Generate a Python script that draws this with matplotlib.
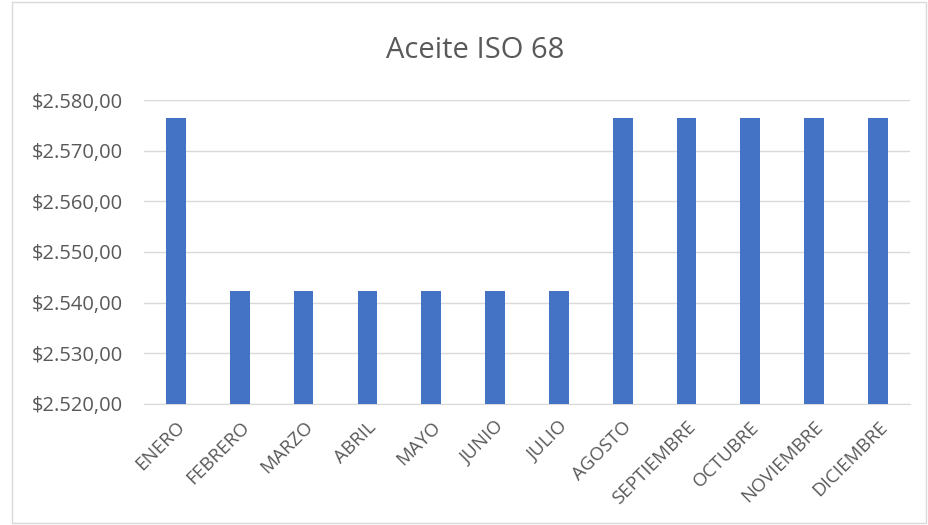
import matplotlib.pyplot as plt
from matplotlib.ticker import FuncFormatter, MultipleLocator
from matplotlib.patches import Rectangle

# datos
meses = ['ENERO', 'FEBRERO', 'MARZO', 'ABRIL', 'MAYO', 'JUNIO', 'JULIO',
         'AGOSTO', 'SEPTIEMBRE', 'OCTUBRE', 'NOVIEMBRE', 'DICIEMBRE']
precios = [2576.5, 2542.4, 2542.4, 2542.4, 2542.4, 2542.4, 2542.4,
           2576.5, 2576.5, 2576.5, 2576.5, 2576.5]

gris = '#595959'
plt.rcParams['font.family'] = ['Open Sans', 'DejaVu Sans']

fig = plt.figure(figsize=(9.29, 5.25), dpi=100)
ax = fig.add_axes([0.155, 0.2305, 0.8245, 0.579])

# borde del grafico
fig.patches.append(Rectangle((12 / 929, 2 / 525), 914 / 929, 521 / 525,
                             transform=fig.transFigure, fill=False,
                             edgecolor='#d9d9d9', linewidth=1))

x = range(len(meses))
ax.bar(x, precios, width=0.31, color='#4472C4', zorder=3)

ax.set_ylim(2520, 2580)
ax.set_xlim(-0.5, len(meses) - 0.5)
ax.yaxis.set_major_locator(MultipleLocator(10))

def fmt(v, pos):
    s = f'{v:,.2f}'.replace(',', 'X').replace('.', ',').replace('X', '.')
    return '$' + s

ax.yaxis.set_major_formatter(FuncFormatter(fmt))
ax.set_xticks(list(x))
ax.set_xticklabels(meses, rotation=45, ha='right', rotation_mode='anchor')

ax.grid(axis='y', color='#d9d9d9', linewidth=1, zorder=0)
for s in ['top', 'right', 'left']:
    ax.spines[s].set_visible(False)
ax.spines['bottom'].set_color('#d9d9d9')
ax.tick_params(axis='both', length=0, colors=gris)
ax.tick_params(axis='y', pad=15, labelsize=14.5)
ax.tick_params(axis='x', pad=10, labelsize=13.5)

fig.text(0.511, 0.903, 'Aceite ISO 68', ha='center', va='center',
         fontsize=21, color=gris)

plt.savefig('out.png', dpi=100)
